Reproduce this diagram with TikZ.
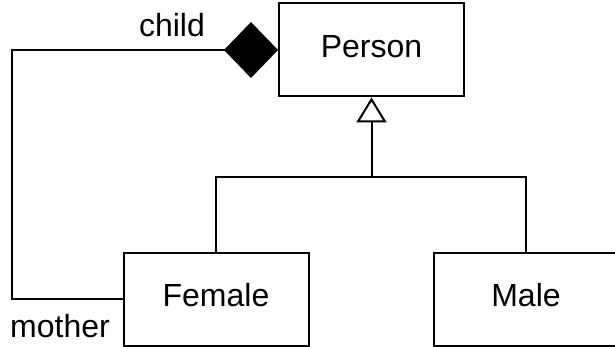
\documentclass[tikz,border=0pt]{standalone}
\usepackage{fontspec}
\setmainfont{Liberation Sans}
\usetikzlibrary{arrows.meta}

\begin{document}
\begin{tikzpicture}[x=0.5pt,y=-0.5pt,line width=1pt,
    classbox/.style={draw,rectangle,minimum width=92.5pt,minimum height=46.5pt,inner sep=0pt,text depth=0.4em,font=\fontsize{16}{19}\selectfont},
    rolename/.style={inner sep=0pt,font=\fontsize{16}{19}\selectfont}]
    \path[use as bounding box] (0,0) rectangle (615,347);
    \clip (0,0) rectangle (615,347);
    \node[classbox] (person) at (371.5,50) {Person};
    \node[classbox] (female) at (216,299) {Female};
    \node[classbox] (male) at (526,299) {Male};
    \coordinate (corner) at (12,50);
    \coordinate (split) at (371.5,177);
    \draw[-{Diamond[length=27pt,width=28pt]}] (female.west) -| (corner) -- (person.west);
    \draw[-{Triangle[open,length=12.5pt,width=15pt]}] (split) -- (person.south);
    \draw (female.north) |- (split) -| (male.north);
    \node[rolename] (childrole) at (172,25) {child};
    \node[rolename] (motherrole) at (60,326) {mother};
\end{tikzpicture}
\end{document}
